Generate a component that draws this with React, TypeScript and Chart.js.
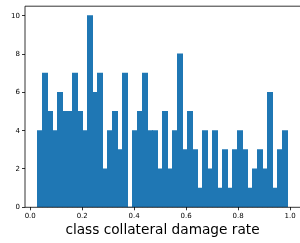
import React, { useEffect, useRef } from "react";
import { Chart, registerables } from "chart.js";

Chart.register(...registerables);

// Histogram data (50 bins)
const binStart = 0.028;
const binEnd = 0.99;
const counts = [
  4, 7, 5, 4, 6, 5, 5, 7, 5, 4,
  10, 6, 7, 2, 4, 5, 3, 7, 0, 4,
  5, 7, 4, 4, 2, 5, 2, 4, 8, 3,
  5, 3, 1, 4, 2, 4, 1, 3, 1, 3,
  4, 3, 1, 2, 3, 2, 6, 1, 3, 4,
];
const xTicks = [0, 0.2, 0.4, 0.6, 0.8, 1.0];
const yTicks = [0, 2, 4, 6, 8, 10];
const xLabel = "class collateral damage rate";

const FONT = "'DejaVu Sans', sans-serif";

const spinePlugin = {
  id: "spines",
  afterDraw(chart: any) {
    const { ctx, chartArea } = chart;
    const { left, top, right, bottom } = chartArea;
    ctx.save();
    ctx.strokeStyle = "#000";
    ctx.lineWidth = 0.8;
    ctx.beginPath();
    ctx.moveTo(right + 1, top);
    ctx.lineTo(left, top);
    ctx.lineTo(left, bottom);
    ctx.lineTo(right + 1, bottom);
    ctx.stroke();
    ctx.restore();
  },
};

export default function App() {
  const ref = useRef<HTMLCanvasElement | null>(null);

  useEffect(() => {
    if (!ref.current) return;
    const width = (binEnd - binStart) / counts.length;
    const data = counts.map((c, i) => ({ x: binStart + (i + 0.5) * width, y: c }));
    const margin = (binEnd - binStart) * 0.05;

    const chart = new Chart(ref.current, {
      type: "bar",
      data: {
        datasets: [
          {
            data: data as any,
            backgroundColor: "#1f77b4",
            borderWidth: 0,
            inflateAmount: 0.5,
            barPercentage: 1,
            categoryPercentage: 1,
          } as any,
        ],
      },
      options: {
        animation: false,
        responsive: false,
        events: [],
        layout: { padding: { top: 2, right: 0, left: 0, bottom: 0 } },
        plugins: {
          legend: { display: false },
          tooltip: { enabled: false },
        },
        scales: {
          x: {
            type: "linear",
            offset: false,
            min: binStart - margin,
            max: binEnd + margin,
            afterBuildTicks: (s: any) => {
              s.ticks = xTicks.map((v) => ({ value: v }));
            },
            afterFit: (s: any) => {
              s.height = 35.7;
            },
            grid: {
              offset: false,
              drawOnChartArea: false,
              drawTicks: true,
              tickLength: 3,
              lineWidth: 0.8,
              color: "#000",
              tickColor: "#000",
            },
            border: { display: false },
            ticks: {
              autoSkip: false,
              maxRotation: 0,
              padding: 2,
              color: "#000",
              font: { family: FONT, size: 7 },
              callback: (v: any) => Number(v).toFixed(1),
            },
            title: {
              display: true,
              text: xLabel,
              color: "#000",
              font: { family: FONT, size: 13.7 },
              padding: { top: 0, bottom: 4 },
            },
          },
          y: {
            type: "linear",
            min: 0,
            max: 10.5,
            afterBuildTicks: (s: any) => {
              s.ticks = yTicks.map((v) => ({ value: v }));
            },
            afterFit: (s: any) => {
              s.width = 25;
            },
            grid: {
              drawOnChartArea: false,
              drawTicks: true,
              tickLength: 3,
              lineWidth: 0.8,
              color: "#000",
              tickColor: "#000",
            },
            border: { display: false },
            ticks: {
              autoSkip: false,
              padding: 2,
              color: "#000",
              font: { family: FONT, size: 7 },
              callback: (v: any) => String(v),
            },
          },
        },
      },
      plugins: [spinePlugin],
    });
    return () => chart.destroy();
  }, []);

  return (
    <div style={{ position: "fixed", left: 0, top: 0, width: 300, height: 243, background: "#fff" }}>
      <canvas ref={ref} width={300} height={243} style={{ display: "block" }} />
    </div>
  );
}
